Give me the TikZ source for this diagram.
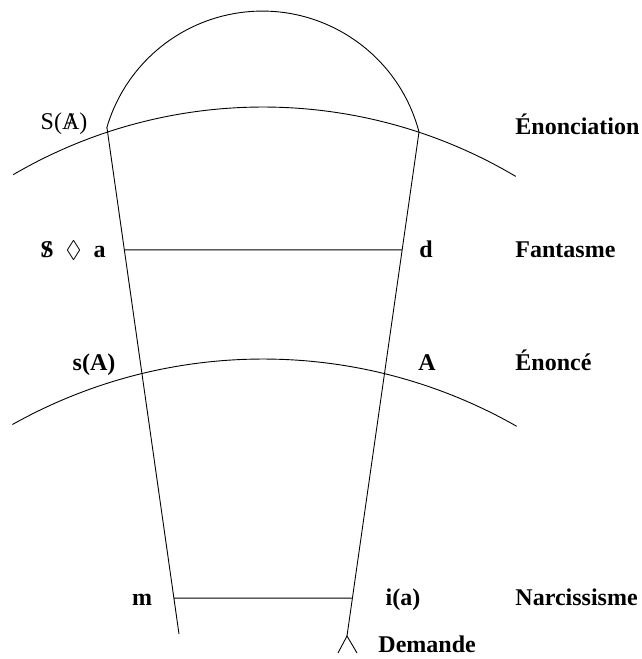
\documentclass[tikz,border=0pt]{standalone}
\usepackage{amssymb}
\usepackage{fontspec}
\setmainfont{Liberation Serif}
\usetikzlibrary{calc}

\begin{document}
\begin{tikzpicture}[x=1pt,y=1pt,line width=0.9pt,
  lbl/.style={font=\fontsize{24}{28}\selectfont\bfseries,inner sep=0pt,anchor=base},
  ttl/.style={lbl,anchor=base west}]
\useasboundingbox (0,0) rectangle (641,659);
% ends of the two long lines
\coordinate (tl) at (107,531);
\coordinate (tr) at (419,527);
\coordinate (bl) at (179,25);
\coordinate (br) at (347,23);
\coordinate (fl) at (338,6);
\coordinate (fr) at (357,6);
% where the short lines meet them
\coordinate (fa1) at ($(tl)!0.241!(bl)$);
\coordinate (fa2) at ($(tr)!0.234!(br)$);
\coordinate (na1) at ($(tl)!0.929!(bl)$);
\coordinate (na2) at ($(tr)!0.925!(br)$);

\draw (tr) arc[start angle=14.7, end angle=163.9, radius=162pt];
\draw (263,57) ++(120.3:495) arc[start angle=120.3, end angle=59.3, radius=495pt];
\draw (263,-212) ++(119.3:512) arc[start angle=119.3, end angle=60.3, radius=512pt];
\draw (tl) -- (bl);
\draw (tr) -- (br);
\draw (fl) -- (br) -- (fr);
\draw (fa1) -- (fa2);
\draw (na1) -- (na2);

% left and right labels
\node[lbl,font=\fontsize{24}{28}\selectfont] (SA) at (64,529) {S(\ooalign{A\cr\hidewidth/\hidewidth})};
\node[lbl] (fant) at (73,401) {\ooalign{S\cr\hidewidth/\hidewidth}\ \ $\lozenge$\ \ a};
\node[lbl] (d) at (426,401) {d};
\node[lbl] (sA) at (94,288) {s(A)};
\node[lbl] (A) at (427,288) {A};
\node[lbl] (m) at (142,53) {m};
\node[lbl] (ia) at (403,53) {i(a)};

% names of the levels
\node[ttl] (enonciation) at (515,524) {Énonciation};
\node[ttl] (fantasme) at (515,401) {Fantasme};
\node[ttl] (enonce) at (515,288) {Énoncé};
\node[ttl] (narc) at (515,53) {Narcissisme};
\node[ttl] (demande) at (378,6) {Demande};
\end{tikzpicture}
\end{document}
